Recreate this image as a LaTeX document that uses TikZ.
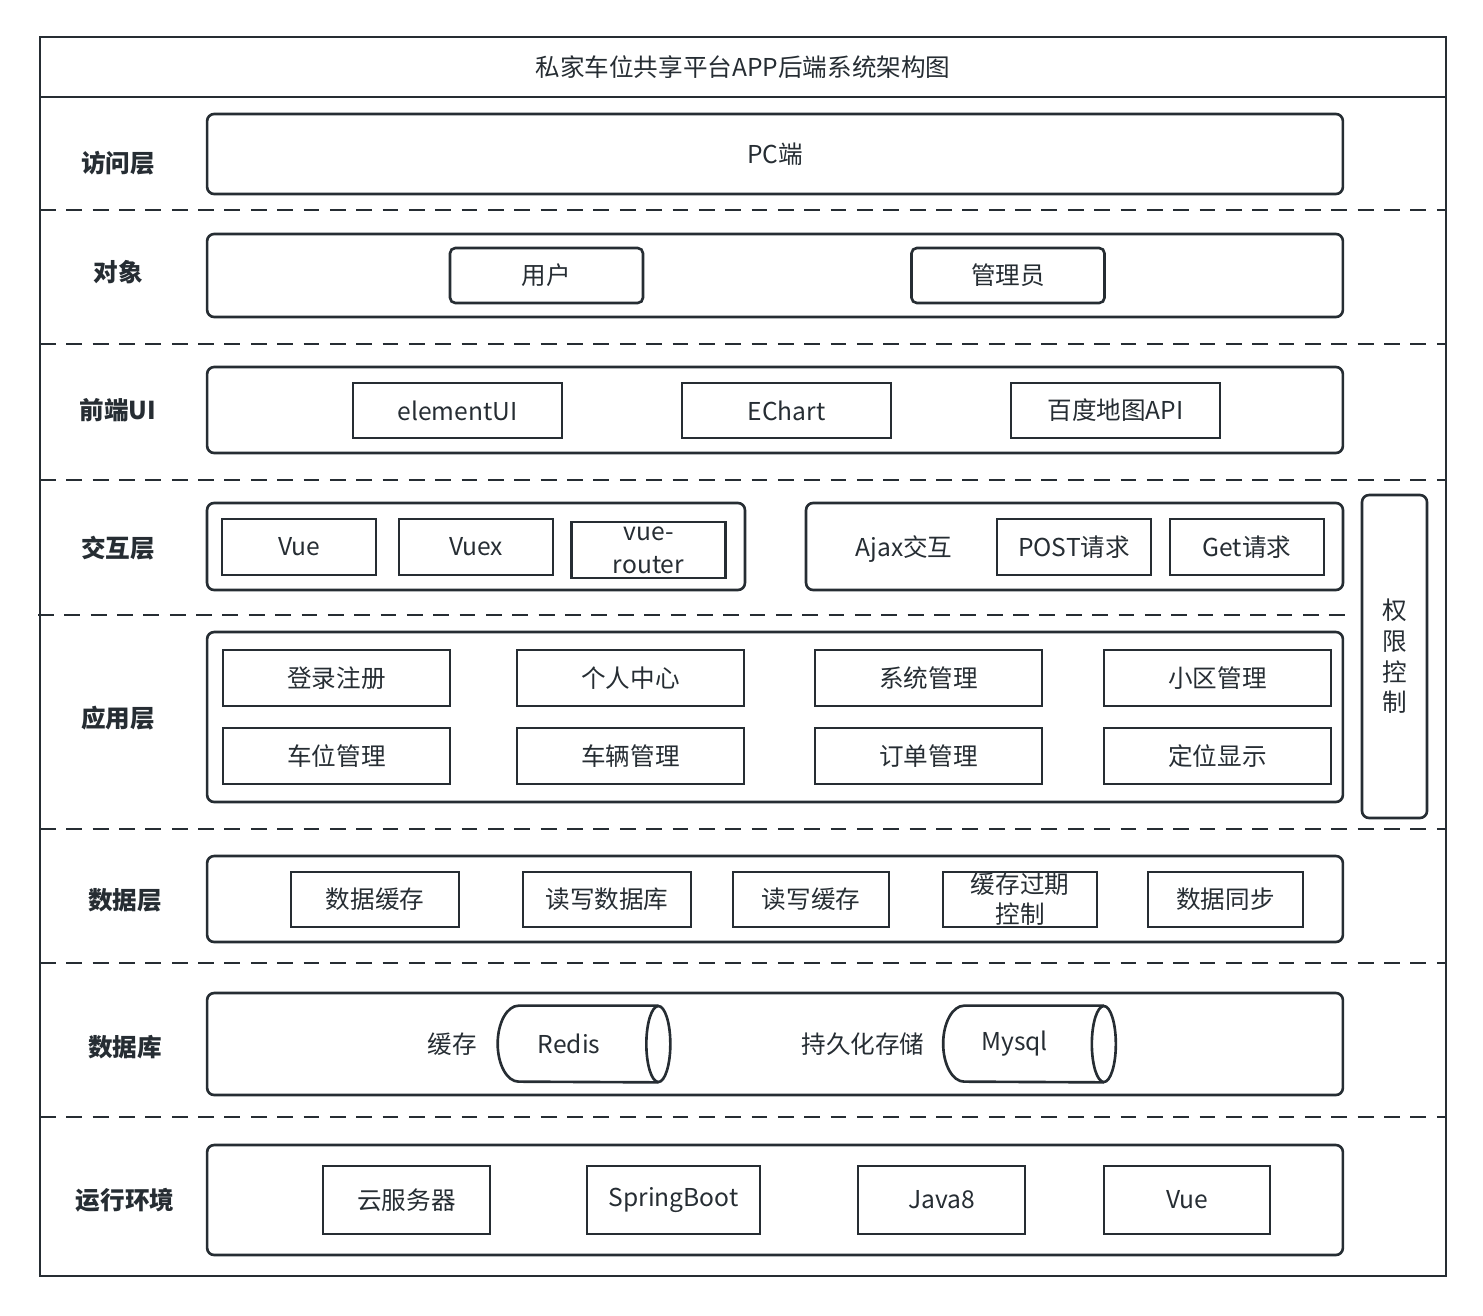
\documentclass[tikz,border=0pt]{standalone}
\usepackage{fontspec}
\setmainfont{Noto Sans CJK SC}
\usepackage{xcolor}
\definecolor{archline}{HTML}{262D33}
\usepackage{tikz}
\usetikzlibrary{shapes.geometric, positioning}

\begin{document}
\begin{tikzpicture}[x=0.02cm, y=-0.02cm,
  every node/.style={text=archline, font=\fontsize{14}{16}\selectfont},
  layer/.style={rectangle, rounded corners=4pt, draw=archline, line width=1.5pt,
    minimum width=22.72cm, inner sep=0pt},
  item/.style={rectangle, draw=archline, line width=1.5pt, minimum height=1.1cm,
    inner sep=0pt, align=center},
  lbl/.style={font=\fontsize{14}{16}\selectfont\bfseries},
  db/.style={rectangle, minimum width=3.44cm, minimum height=1.52cm, inner sep=0pt},
  dbline/.style={draw=archline, line width=1.5pt},
  sep/.style={draw=archline, line width=1.2pt, dash pattern=on 9pt off 6pt}
]
\useasboundingbox (0,0) rectangle (1483,1315);

% frame and title
\node[draw=archline, line width=1.5pt, minimum width=28.12cm, minimum height=24.78cm,
  inner sep=0pt] (frame) at (743,656.5) {};
\node[draw=archline, line width=1.5pt, minimum width=28.12cm, minimum height=1.2cm,
  inner sep=0pt] (title) at (743,67) {私家车位共享平台APP后端系统架构图};

% layer separators
\foreach \y/\xa/\xb in {210/40/1446,344/40/1446,480/40/1446,615/38/1350,
                        829/40/1446,963/40/1446,1117/40/1446}
  \draw[sep] (\xa,\y) -- (\xb,\y);

% layer names
\node[lbl] (l1) at (118,163) {访问层};
\node[lbl] (l2) at (118,272) {对象};
\node[lbl] (l3) at (118,410) {前端UI};
\node[lbl] (l4) at (118,548) {交互层};
\node[lbl] (l5) at (118,718) {应用层};
\node[lbl] (l6) at (125,900) {数据层};
\node[lbl] (l7) at (125,1047) {数据库};
\node[lbl] (l8) at (125,1200) {运行环境};

% access
\node[layer, minimum height=1.6cm] (access) at (775,154) {PC端};

% objects
\node[layer, minimum height=1.66cm] (objects) at (775,275.5) {};
\node[item, rounded corners=3pt, minimum width=3.86cm] (user) at (546.5,275.5) {用户};
\node[item, rounded corners=3pt, minimum width=3.86cm] (admin) at (1008,275.5) {管理员};

% front end
\node[layer, minimum height=1.72cm] (front) at (775,410) {};
\node[item, minimum width=4.18cm] (elem) at (457.5,410.5) {elementUI};
\node[item, minimum width=4.18cm] (echart) at (786.5,410.5) {EChart};
\node[item, minimum width=4.18cm] (bmap) at (1115.5,410.5) {百度地图API};

% interaction
\node[layer, minimum width=10.76cm, minimum height=1.74cm] (vuebox) at (476,546.5) {};
\node[item, minimum width=3.08cm, minimum height=1.12cm] (vue) at (299,547) {Vue};
\node[item, minimum width=3.08cm, minimum height=1.12cm] (vuex) at (476,547) {Vuex};
\node[item, minimum width=3.08cm, minimum height=1.12cm,
  font=\fontsize{14}{19}\selectfont] (router) at (648.5,550) {vue-\\router};
\node[layer, minimum width=10.74cm, minimum height=1.74cm] (ajaxbox) at (1074.5,546.5) {};
\node (ajax) at (904,549) {Ajax交互};
\node[item, minimum width=3.08cm, minimum height=1.12cm] (post) at (1074,547) {POST请求};
\node[item, minimum width=3.08cm, minimum height=1.12cm] (get) at (1247,547) {Get请求};

% permission
\node[layer, minimum width=1.3cm, minimum height=6.46cm, align=center,
  font=\fontsize{14}{17.5}\selectfont] (auth) at (1394.5,656.5) {权\\限\\控\\制};

% application
\node[layer, minimum height=3.4cm] (app) at (775,717) {};
\node[item, minimum width=4.54cm, minimum height=1.12cm] (login) at (336.5,678) {登录注册};
\node[item, minimum width=4.54cm, minimum height=1.12cm] (center) at (630.5,678) {个人中心};
\node[item, minimum width=4.54cm, minimum height=1.12cm] (sysman) at (928.5,678) {系统管理};
\node[item, minimum width=4.54cm, minimum height=1.12cm] (areaman) at (1217.5,678) {小区管理};
\node[item, minimum width=4.54cm, minimum height=1.12cm] (spotman) at (336.5,756) {车位管理};
\node[item, minimum width=4.54cm, minimum height=1.12cm] (carman) at (630.5,756) {车辆管理};
\node[item, minimum width=4.54cm, minimum height=1.12cm] (orderman) at (928.5,756) {订单管理};
\node[item, minimum width=4.54cm, minimum height=1.12cm] (locate) at (1217.5,756) {定位显示};

% data
\node[layer, minimum height=1.72cm] (data) at (775,899) {};
\node[item, minimum width=3.36cm] (dcache) at (375,899.5) {数据缓存};
\node[item, minimum width=3.36cm] (rwdb) at (607,899.5) {读写数据库};
\node[item, minimum width=3.12cm] (rwcache) at (811,899.5) {读写缓存};
\node[item, minimum width=3.08cm, font=\fontsize{14}{17}\selectfont] (expire) at (1020,899.5) {缓存过期\\控制};
\node[item, minimum width=3.1cm] (sync) at (1225.5,899.5) {数据同步};

% database
\node[layer, minimum height=2.04cm] (dbase) at (775,1044) {};
\node (cachelbl) at (452,1044) {缓存};
\node (persist) at (863,1044) {持久化存储};
\foreach \n/\x/\t in {redis/584/Redis, mysql/1029.5/Mysql} {
  \node[db] (\n) at (\x,1044) {};
  \draw[dbline] ([xshift=-0.24cm]\n.north east) -- ([xshift=0.42cm]\n.north west)
    arc[start angle=90, end angle=270, x radius=0.42cm, y radius=0.76cm]
    -- ([xshift=-0.24cm]\n.south east);
  \draw[dbline] ([xshift=-0.24cm]\n.east) ellipse[x radius=0.24cm, y radius=0.76cm];
  \node at ([xshift=-0.3cm]\n.center) {\t};
}

% runtime
\node[layer, minimum height=2.2cm] (env) at (775,1200) {};
\node[item, minimum width=3.34cm, minimum height=1.36cm] (cloud) at (406.5,1200) {云服务器};
\node[item, minimum width=3.46cm, minimum height=1.36cm] (boot) at (673.5,1200) {SpringBoot};
\node[item, minimum width=3.34cm, minimum height=1.36cm] (java) at (941.5,1200) {Java8};
\node[item, minimum width=3.32cm, minimum height=1.36cm] (vuerun) at (1187,1200) {Vue};
\end{tikzpicture}
\end{document}
